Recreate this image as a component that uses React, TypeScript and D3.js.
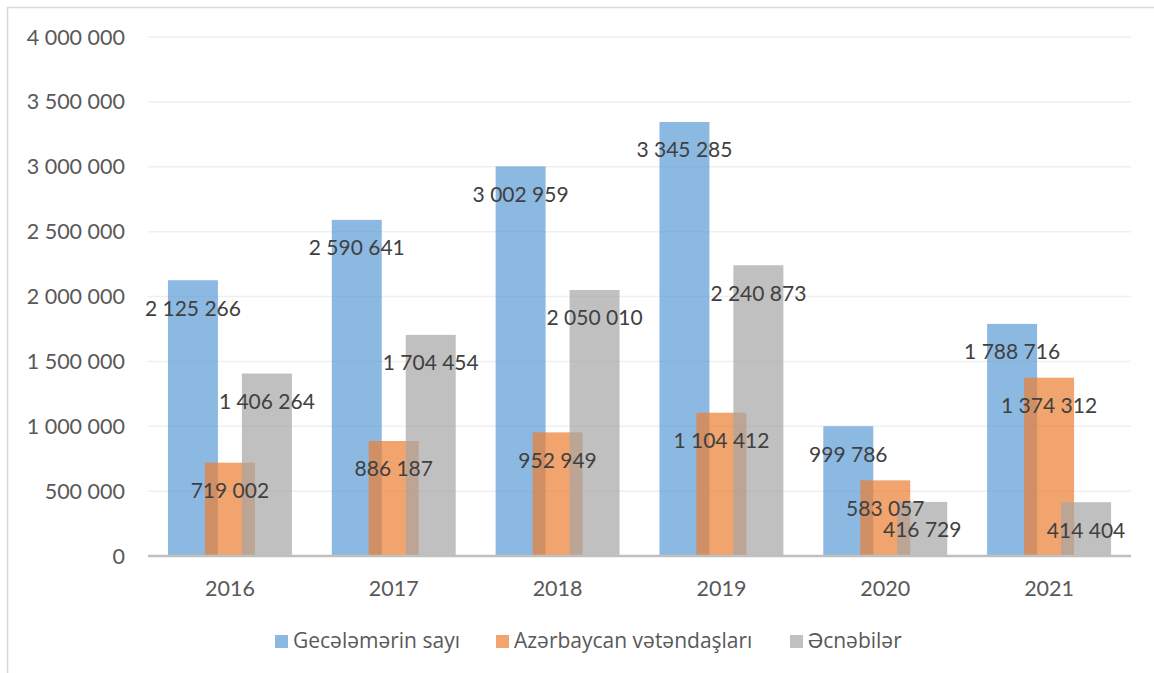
import React, { useEffect, useRef } from 'react';
import * as d3 from 'd3';

const years = ['2016', '2017', '2018', '2019', '2020', '2021'];
const seriesNames = ['Gecələmərin sayı', 'Azərbaycan vətəndaşları', 'Əcnəbilər'];
const nights = [2125266, 2590641, 3002959, 3345285, 999786, 1788716];
const citizens = [719002, 886187, 952949, 1104412, 583057, 1374312];
const foreigners = [1406264, 1704454, 2050010, 2240873, 416729, 414404];
const yTicks = [0, 500000, 1000000, 1500000, 2000000, 2500000, 3000000, 3500000, 4000000];

const colors = ['#5B9BD5', '#ED7D31', '#A5A5A5'];
const fontFamily = 'Lato, "Open Sans", sans-serif';
const legendFont = '"Open Sans", Lato, sans-serif';

const fmt = (v: number) => d3.format(',')(v).replace(/,/g, ' ');

const App: React.FC = () => {
  const svgRef = useRef<SVGSVGElement>(null);

  useEffect(() => {
    if (!svgRef.current) return;
    const svg = d3.select(svgRef.current);
    svg.selectAll('*').remove();

    const width = 1154;
    const height = 673;
    const plot = { left: 148, right: 1131, top: 37, bottom: 556 };

    // outer chart border
    svg.append('rect')
      .attr('x', 7.5).attr('y', 7.5)
      .attr('width', width + 10).attr('height', height + 10)
      .attr('fill', '#fff')
      .attr('stroke', '#d9d9d9')
      .attr('stroke-width', 1.5);

    const x = d3.scaleBand<string>()
      .domain(years)
      .range([plot.left, plot.right]);

    const y = d3.scaleLinear()
      .domain([0, 4000000])
      .range([plot.bottom, plot.top]);

    // gridlines
    svg.append('g')
      .selectAll('line')
      .data(yTicks.filter(t => t > 0))
      .enter().append('line')
      .attr('x1', plot.left).attr('x2', plot.right)
      .attr('y1', d => y(d)).attr('y2', d => y(d))
      .attr('stroke', '#efefef')
      .attr('stroke-width', 1.5);

    // y tick labels
    svg.append('g')
      .selectAll('text')
      .data(yTicks)
      .enter().append('text')
      .attr('x', 125)
      .attr('y', d => y(d))
      .attr('dy', '0.35em')
      .attr('text-anchor', 'end')
      .attr('font-family', fontFamily)
      .attr('font-size', 21.5)
      .attr('fill', '#595959')
      .text(d => fmt(d));

    const series = [nights, citizens, foreigners];
    const bw = x.bandwidth() * 0.305;
    const shift = bw * 0.74;

    const barX = (i: number, j: number) =>
      (x(years[j]) as number) + x.bandwidth() / 2 + (i - 1) * shift - bw / 2;

    series.forEach((vals, i) => {
      svg.append('g')
        .selectAll('rect')
        .data(vals)
        .enter().append('rect')
        .attr('x', (_, j) => barX(i, j))
        .attr('y', d => y(d))
        .attr('width', bw)
        .attr('height', d => y(0) - y(d))
        .attr('fill', colors[i])
        .attr('fill-opacity', 0.7);
    });

    // axis baseline
    svg.append('line')
      .attr('x1', plot.left).attr('x2', plot.right)
      .attr('y1', plot.bottom).attr('y2', plot.bottom)
      .attr('stroke', '#bfbfbf')
      .attr('stroke-width', 2.5);

    // data labels (inside end)
    series.forEach((vals, i) => {
      svg.append('g')
        .selectAll('text')
        .data(vals)
        .enter().append('text')
        .attr('x', (_, j) => barX(i, j) + bw / 2)
        .attr('y', d => y(d) + 28)
        .attr('dy', '0.35em')
        .attr('text-anchor', 'middle')
        .attr('font-family', fontFamily)
        .attr('font-size', 21)
        .attr('fill', '#404040')
        .text(d => fmt(d));
    });

    // category labels
    svg.append('g')
      .selectAll('text')
      .data(years)
      .enter().append('text')
      .attr('x', d => (x(d) as number) + x.bandwidth() / 2)
      .attr('y', 588)
      .attr('dy', '0.35em')
      .attr('text-anchor', 'middle')
      .attr('font-family', fontFamily)
      .attr('font-size', 21.5)
      .attr('fill', '#595959')
      .text(d => d);

    // legend
    const legendX = [275, 496, 790];
    const legend = svg.append('g');
    seriesNames.forEach((name, i) => {
      legend.append('rect')
        .attr('x', legendX[i]).attr('y', 635)
        .attr('width', 13).attr('height', 13)
        .attr('fill', colors[i])
        .attr('fill-opacity', 0.7);
      legend.append('text')
        .attr('x', legendX[i] + 18)
        .attr('y', 641)
        .attr('dy', '0.35em')
        .attr('font-family', legendFont)
        .attr('font-size', 21)
        .attr('fill', '#595959')
        .text(name);
    });
  }, []);

  return (
    <svg
      ref={svgRef}
      width={1154}
      height={673}
      style={{ position: 'absolute', left: 0, top: 0, display: 'block' }}
    />
  );
};

export default App;
